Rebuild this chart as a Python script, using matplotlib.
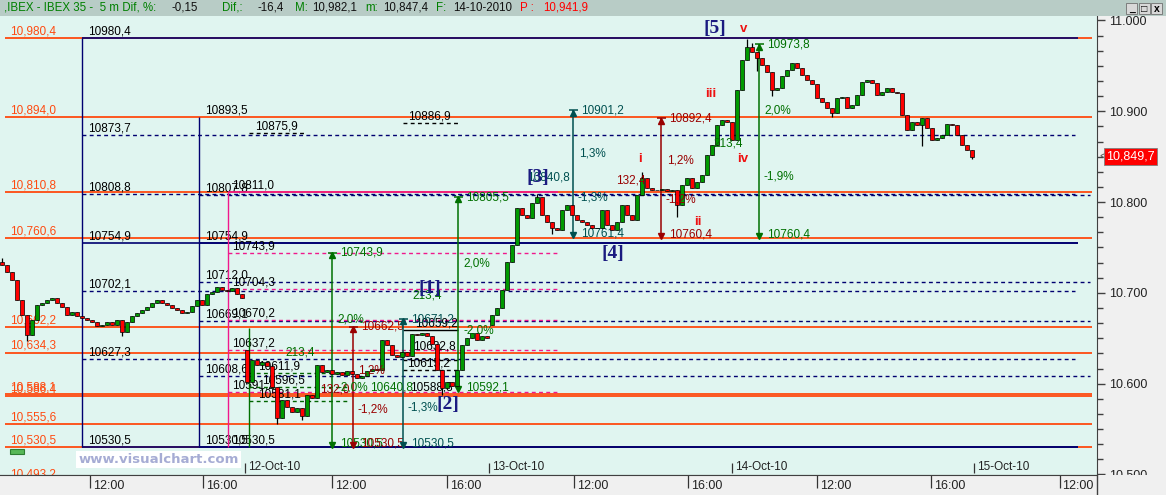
import matplotlib
matplotlib.use("Agg")
import matplotlib.pyplot as plt
from matplotlib.patches import Rectangle
from matplotlib.lines import Line2D
from matplotlib.ticker import MultipleLocator, FuncFormatter
import numpy as np

plt.rcParams['font.family'] = ['Liberation Sans', 'DejaVu Sans']

# ---------------- data ----------------
closes_oct11 = [10730.7, 10723.0, 10714.1, 10692.1, 10675.6, 10653.6, 10670.1, 10686.6, 10688.8, 10692.1,
                10694.3, 10688.8, 10684.4, 10675.6, 10678.9, 10674.5, 10672.3, 10670.1, 10667.9, 10663.5,
                10664.6, 10667.9, 10664.6, 10670.1, 10656.9, 10667.9, 10674.5, 10677.8, 10681.1, 10684.4,
                10688.8, 10692.1, 10688.8, 10686.6, 10683.3, 10681.1, 10677.8, 10678.9, 10685.5, 10692.1,
                10686.6, 10698.7, 10700.9, 10706.4, 10703.1, 10702.0, 10705.3, 10698.7, 10694.3]
closes_oct12 = [10601.8, 10625.9, 10620.5, 10623.8, 10619.4, 10596.3, 10562.1, 10582.0, 10574.3, 10568.8,
                10573.2, 10564.3, 10587.5, 10584.2, 10620.5, 10612.8, 10615.0, 10610.6, 10612.8, 10609.5,
                10613.9, 10610.6, 10606.2, 10608.4, 10613.9, 10616.1, 10615.0, 10648.1, 10642.5, 10631.4,
                10629.2, 10634.8, 10630.3, 10654.7, 10653.6, 10655.8, 10652.5, 10643.7, 10615.0, 10595.2,
                10601.8, 10597.4, 10615.0, 10642.5, 10650.3, 10655.8, 10648.1, 10652.5, 10650.3]
closes_oct13 = [10675.6, 10683.3, 10703.1, 10733.9, 10752.7, 10793.5, 10785.8, 10782.4, 10799.0, 10805.6,
                10785.8, 10778.0, 10771.4, 10769.2, 10791.3, 10796.8, 10785.8, 10780.2, 10778.0, 10774.7,
                10771.4, 10771.4, 10791.3, 10774.7, 10769.2, 10778.0, 10796.8, 10785.8, 10780.2, 10807.8,
                10826.5, 10815.5, 10813.3, 10813.3, 10814.4, 10812.2, 10813.3, 10796.8, 10818.8, 10826.5,
                10815.5, 10822.1, 10829.8, 10851.9, 10862.9, 10884.9, 10890.4, 10888.2]
closes_oct14 = [10868.4, 10923.5, 10956.5, 10970.8, 10965.3, 10958.7, 10951.0, 10943.3, 10923.5, 10925.7,
                10938.9, 10945.5, 10953.2, 10947.7, 10940.0, 10934.5, 10930.1, 10914.6, 10910.2, 10903.6,
                10898.1, 10914.6, 10915.7, 10903.6, 10906.9, 10918.0, 10932.3, 10934.5, 10931.2, 10918.0,
                10921.3, 10925.7, 10921.3, 10920.2, 10895.9, 10879.4, 10888.2, 10884.9, 10892.6, 10881.6,
                10868.4, 10870.6, 10873.9, 10886.0, 10884.9, 10873.9, 10862.9, 10857.4, 10849.7]
first_open = 10733.9
session_opens = {49: 10637.2, 98: 10664.6}
wick_highs = {0: 10738.0, 107: 10809.0, 128: 10833.1, 149: 10979.6, 150: 10975.0}
wick_lows = {5: 10647.0, 24: 10652.0, 55: 10555.6, 60: 10559.9, 88: 10588.0, 110: 10765.0,
             135: 10783.5, 151: 10944.0, 154: 10917.0, 166: 10893.5, 184: 10862.0, 194: 10847.4}

level_values = [10980.4, 10894.0, 10810.8, 10760.6, 10662.2, 10634.3, 10588.1, 10586.4, 10555.6, 10530.5, 10493.2]

fib1_levels = [10980.4, 10873.7, 10808.8, 10754.9, 10702.1, 10627.3, 10530.5]
fib1_solid = [True, False, False, True, False, False, True]
fib2_levels = [10893.5, 10807.8, 10754.9, 10712.0, 10669.1, 10608.6, 10530.5]
fib2_solid = [None, False, True, False, False, False, True]
fib3_levels = [10811.0, 10743.9, 10704.3, 10670.2, 10637.2, 10591.2, 10530.5]
fib3_solid = [True, False, False, False, False, False, None]

green_tool_levels = [10611.9, 10596.5, 10581.0]

# measuring tools: (time position, top, bottom, colour)
measures = [(66.0, 10743.9, 10530.5, '#007000'),
            (70.2, 10662.5, 10530.5, '#990000'),
            (80.2, 10671.2, 10530.5, '#005050'),
            (91.2, 10805.5, 10592.1, '#007000'),
            (114.2, 10901.2, 10761.4, '#005050'),
            (131.8, 10892.4, 10760.4, '#990000'),
            (151.4, 10973.8, 10760.4, '#007000')]

notes = [(67.0, 10671.2, "2,0%", '#007000'), (56.6, 10634.8, "213,4", '#007000'),
         (71.2, 10615.0, "1,2%", '#990000'), (71.2, 10572.0, "-1,2%", '#990000'),
         (63.6, 10593.0, "132,0", '#990000'), (67.2, 10596.0, "-2,0%", '#007000'),
         (73.6, 10596.0, "10640,8", '#007000'), (81.2, 10574.0, "-1,3%", '#005050'),
         (92.2, 10731.8, "2,0%", '#007000'), (92.2, 10659.0, "-2,0%", '#007000'),
         (82.0, 10697.6, "213,4", '#007000'), (115.4, 10853.0, "1,3%", '#005050'),
         (115.2, 10804.5, "-1,3%", '#005050'), (133.0, 10846.3, "1,2%", '#990000'),
         (132.8, 10802.3, "-1,2%", '#990000'), (122.8, 10824.3, "132,4", '#990000'),
         (152.4, 10901.4, "2,0%", '#007000'), (152.4, 10828.7, "-1,9%", '#007000'),
         (142.2, 10865.0, "213,4", '#007000'), (105.0, 10827.6, "10840,8", '#005050')]

black_notes = [(50.6, 10875.9, "10875,9"), (81.2, 10886.9, "10886,9"), (82.6, 10659.2, "10659,2"),
               (82.2, 10634.0, "10632,8"), (81.0, 10615.0, "10615,2"), (81.6, 10588.5, "10588,8"),
               (51.2, 10611.9, "10611,9"), (52.0, 10596.5, "10596,5"), (51.2, 10581.0, "10581,1")]

waves = [(85.6, 10705.3, "[1]"), (89.2, 10576.5, "[2]"), (107.2, 10827.6, "[3]"),
         (122.2, 10742.8, "[4]"), (142.6, 10990.7, "[5]")]
subwaves = [(127.6, 10847.4, "i"), (139.2, 10778.0, "ii"), (141.8, 10919.1, "iii"),
            (148.1, 10847.4, "iv"), (148.4, 10990.7, "v")]

date_pos = [48.6, 97.4, 145.9, 194.4]
date_labels = ["12-Oct-10", "13-Oct-10", "14-Oct-10", "15-Oct-10"]
hour_pos = [17.6, 40.2, 66.0, 89.0, 114.4, 137.2, 163.0, 185.8, 211.5]
hour_labels = ["12:00", "16:00", "12:00", "16:00", "12:00", "16:00", "12:00", "16:00", "12:00"]
last_price = 10849.7

# ---------------- figure ----------------
W, H = 1166.0, 495.0
fig = plt.figure(figsize=(W / 100, H / 100), dpi=100, facecolor='#f0f0f0')
ax = fig.add_axes([0, (H - 474.7) / H, 1096.5 / W, (474.7 - 15.5) / H])
ax.set_facecolor('#e0f5f0')
ax.set_xlim(-0.4, 218.9)
ax.set_ylim(10499.7, 11005.5)

ORANGE = '#ff4a10'
NAVY = '#000070'
PINK = '#f0188c'
FS = 8.5


def fmt(v):
    return f"{v:.1f}".replace('.', ',')


# orange levels
ax.hlines(level_values, 0.6, 218.0, color=ORANGE, lw=1.3, zorder=2.2)
for v in level_values:
    ax.text(1.6, v + 0.6, f"{v:,.1f}".replace('.', ','), color=ORANGE, fontsize=FS,
            va='bottom', ha='left', zorder=2.1, clip_on=True)

# fibonacci 1
ax.vlines(16.0, fib1_levels[-1], fib1_levels[0], color=NAVY, lw=1.0, zorder=2.3)
for v, s in zip(fib1_levels, fib1_solid):
    if s:
        ax.hlines(v, 16.0, 215.2, color=NAVY, lw=1.2, zorder=2.3)
    else:
        ax.hlines(v, 16.0, 214.6, color=NAVY, lw=1.0, linestyles=(0, (2.8, 2.4)), zorder=2.3)
    ax.text(17.2, v + 0.6, fmt(v), color='black', fontsize=FS, va='bottom', ha='left', zorder=2.4)

# fibonacci 2
ax.vlines(39.4, fib2_levels[-1], fib2_levels[0], color=NAVY, lw=1.0, zorder=2.3)
for v, s in zip(fib2_levels, fib2_solid):
    if s is True:
        ax.hlines(v, 39.4, 215.2, color=NAVY, lw=1.2, zorder=2.3)
    elif s is False:
        ax.hlines(v, 39.4, 217.6, color=NAVY, lw=1.0, linestyles=(0, (2.8, 2.4)), zorder=2.3)
    ax.text(40.6, v + 0.6, fmt(v), color='black', fontsize=FS, va='bottom', ha='left', zorder=2.4)

# fibonacci 3 (pink)
ax.vlines(45.2, fib3_levels[-1], fib3_levels[0], color=PINK, lw=1.0, zorder=2.4)
for v, s in zip(fib3_levels, fib3_solid):
    if s is True:
        ax.hlines(v, 45.2, 111.2, color=PINK, lw=1.2, zorder=2.4)
    elif s is False:
        ax.hlines(v, 45.2, 111.2, color=PINK, lw=1.0, linestyles=(0, (2.8, 2.4)), zorder=2.4)
    ax.text(46.0, v + 0.6, fmt(v), color='black', fontsize=FS, va='bottom', ha='left', zorder=2.4)

# green small tool
ax.vlines(49.4, 10530.5, 10661.3, color='#007000', lw=1.0, zorder=2.4)
ax.hlines(green_tool_levels, 49.4, 69.0, color='#006400', lw=1.0, linestyles=(0, (2.8, 2.4)), zorder=2.4)

# black short lines
ax.hlines([10875.9], 49.4, 60.6, color='black', lw=1.0, linestyles=(0, (2.8, 2.4)), zorder=2.4)
ax.hlines([10886.9], 80.2, 91.2, color='black', lw=1.0, linestyles=(0, (2.8, 2.4)), zorder=2.4)
ax.hlines([10659.2], 80.2, 91.2, color='black', lw=1.0, zorder=2.4)
ax.hlines([10626.0, 10615.0], 80.2, 91.6, color='black', lw=1.0, linestyles=(0, (2.8, 2.4)), zorder=2.4)
for x, y, t in black_notes:
    ax.text(x, y + 0.6, t, color='black', fontsize=FS, va='bottom', ha='left', zorder=2.4)

# measuring arrows
for x, top, bot, col in measures:
    ax.vlines(x, bot, top, color=col, lw=1.1, zorder=2.6)
    ax.hlines(top, x - 0.9, x + 0.9, color=col, lw=1.1, zorder=2.6)
    ax.plot([x], [top - 2.6], marker='^', ms=4, color=col, zorder=2.6)
    ax.plot([x], [bot + 2.4], marker='v', ms=4, color=col, zorder=2.6)
    ax.text(x + 1.6, top, fmt(top), color=col, fontsize=FS, va='center', ha='left', zorder=2.6)
    ax.text(x + 1.6, bot + 3.5, fmt(bot), color=col, fontsize=FS, va='center', ha='left', zorder=2.6)
for x, y, t, col in notes:
    ax.text(x, y, t, color=col, fontsize=FS, va='center', ha='left', zorder=7)

# candles
closes = np.array(closes_oct11 + closes_oct12 + closes_oct13 + closes_oct14)
n = len(closes)
idx = np.arange(n)
opens = np.empty(n)
opens[0] = first_open
opens[1:] = closes[:-1]
for k, v in session_opens.items():
    opens[k] = v
highs = np.maximum(opens, closes)
lows = np.minimum(opens, closes)
for k, v in wick_highs.items():
    highs[k] = v
for k, v in wick_lows.items():
    lows[k] = v
up = closes >= opens
ax.vlines(idx, lows, highs, color='black', lw=0.9, zorder=5)
ax.bar(idx, closes - opens, bottom=opens, width=0.8,
       color=np.where(up, '#009a00', '#ff0000'), edgecolor='black', linewidth=0.5, zorder=6)

# wave labels
for x, y, t in waves:
    ax.text(x, y, t, color='#1a1a80', fontsize=14, fontweight='bold', family='Liberation Serif',
            ha='center', va='center', zorder=8)
for x, y, t in subwaves:
    ax.text(x, y, t, color='#ee1111', fontsize=9.5, fontweight='bold',
            ha='center', va='center', zorder=8)

# date labels inside plot
for x, t in zip(date_pos, date_labels):
    ax.vlines(x, 10501.5, 10512.6, color='#333333', lw=0.9, zorder=3)
    ax.text(x + 0.7, 10508.0, t, color='#222222', fontsize=FS, va='center', ha='left', zorder=3)

# watermark and small green box
ax.text(0.0715, 0.034, "www.visualchart.com", transform=ax.transAxes, fontsize=9.5,
        fontweight='bold', family='DejaVu Sans', color='#a6acd4', va='center', ha='left',
        bbox=dict(boxstyle='square,pad=0.15', fc='white', ec='none'), zorder=9)
ax.add_patch(Rectangle((0.0091, 0.046), 0.013, 0.011, transform=ax.transAxes,
                       fc='#58b858', ec='#2e7d32', lw=0.8, zorder=9))

# axes styling
for s in ['left', 'top']:
    ax.spines[s].set_visible(False)
ax.spines['bottom'].set_color('#404040')
ax.spines['right'].set_color('#404040')
ax.set_xticks([])
ax.yaxis.tick_right()
ax.yaxis.set_major_locator(MultipleLocator(100))
ax.yaxis.set_minor_locator(MultipleLocator(100 / 6))
ax.yaxis.set_major_formatter(FuncFormatter(lambda v, p: f"{v / 1000:.3f}"))
ax.tick_params(axis='y', which='major', length=6, width=1, color='#404040',
               labelsize=FS + 0.5, labelcolor='#222222', pad=3)
ax.tick_params(axis='y', which='minor', length=4, width=1, color='#404040')

# last price tag
ax.text(1.0087, last_price, fmt(last_price).replace(',', ',', 1)[:2] + ',' + fmt(last_price)[2:],
        transform=ax.get_yaxis_transform(), color='white', fontsize=FS + 0.5, va='center', ha='left',
        bbox=dict(boxstyle='square,pad=0.2', fc='#ff0000', ec='#808080', lw=0.6), clip_on=False, zorder=10)
ax.text(1.0025, last_price, "<", transform=ax.get_yaxis_transform(), color='#555555',
        fontsize=FS, va='center', ha='left', clip_on=False)

# bottom covering band (hides the part of the axis below the plot)
fig.patches.append(Rectangle((0, 0), 1, (H - 474.7) / H, transform=fig.transFigure,
                             fc='#f0f0f0', ec='none', zorder=1))
band = fig.add_axes([0, 0, 1096.5 / W, (H - 474.7) / H], zorder=2)
band.set_facecolor('#f0f0f0')
band.set_xlim(ax.get_xlim())
band.set_ylim(0, 1)
for s in band.spines.values():
    s.set_visible(False)
band.spines['top'].set_visible(True)
band.spines['top'].set_color('#404040')
band.set_yticks([])
band.set_xticks(hour_pos)
band.tick_params(axis='x', top=True, bottom=False, labelbottom=False, labeltop=False,
                 direction='in', length=9.5, width=0.9, color='#333333')
for x, t in zip(hour_pos, hour_labels):
    band.text(x + 0.6, 0.45, t, fontsize=FS + 0.5, color='#222222', va='center', ha='left')
fig.lines.append(Line2D([1096.5 / W, 1096.5 / W], [0, (H - 474.7) / H], transform=fig.transFigure,
                        color='#404040', lw=1.0, zorder=3))

# header bar
fig.patches.append(Rectangle((0, 1 - 15.5 / H), 1, 15.5 / H, transform=fig.transFigure,
                             fc='#b8ccc6', ec='none', zorder=4))
header = [(4, ",IBEX - IBEX 35 -  5 m Dif, %:", '#008000'), (172, "-0,15", '#111111'),
          (222, "Dif,:", '#008000'), (258, "-16,4", '#111111'), (295, "M:", '#008000'),
          (312, "10,982,1", '#111111'), (365, "m:", '#008000'), (383, "10,847,4", '#111111'),
          (436, "F:", '#008000'), (453, "14-10-2010", '#111111'), (520, "P :", '#ff0000'),
          (543, "10,941,9", '#ff0000')]
for x, t, c in header:
    fig.text(x / W, 1 - 8 / H, t, color=c, fontsize=8.3, va='center', ha='left', zorder=5)
# window buttons
for i, sym in enumerate(["_", "\u25a1", "x"]):
    x0 = 1126 + i * 12.5
    fig.patches.append(Rectangle((x0 / W, 1 - 14 / H), 11 / W, 11 / H, transform=fig.transFigure,
                                 fc='#d8d8d8', ec='#707070', lw=0.6, zorder=5))
    fig.text((x0 + 5.5) / W, 1 - 8.5 / H, sym, fontsize=7.5, fontweight='bold', color='black',
             ha='center', va='center', zorder=6)

fig.savefig('out.png', dpi=100, facecolor=fig.get_facecolor())
